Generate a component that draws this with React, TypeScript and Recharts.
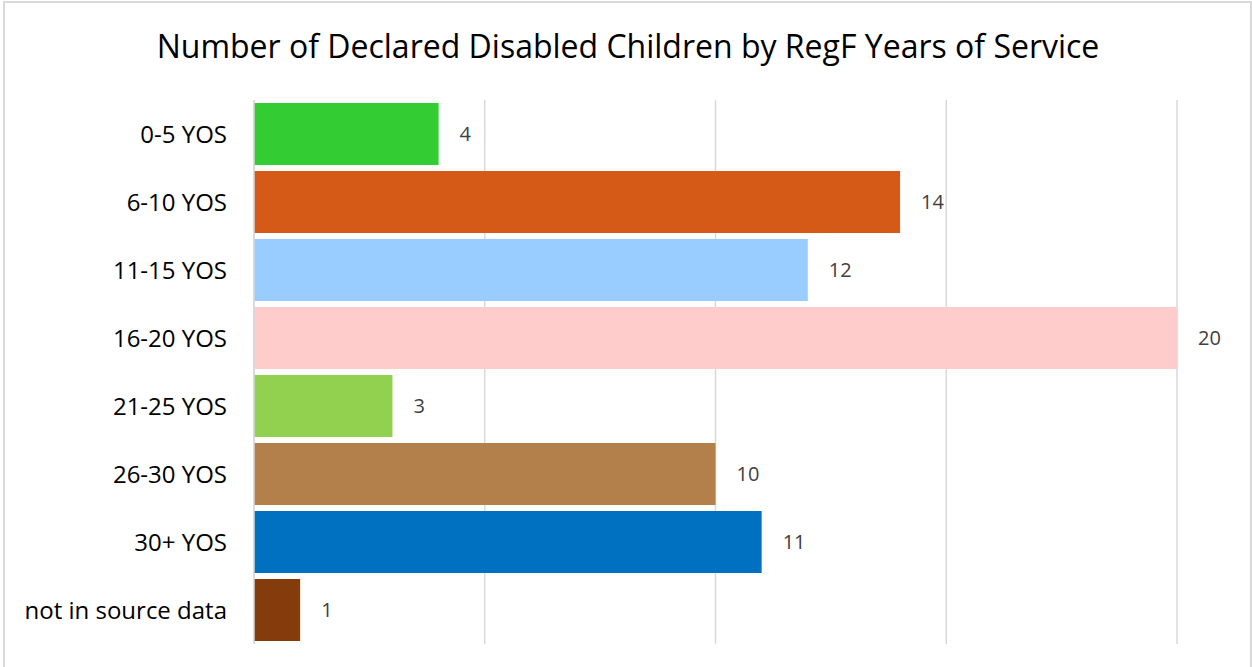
import React from "react";
import { BarChart, Bar, XAxis, YAxis, CartesianGrid, Cell, LabelList } from "recharts";

const categories = ["0-5 YOS", "6-10 YOS", "11-15 YOS", "16-20 YOS", "21-25 YOS", "26-30 YOS", "30+ YOS", "not in source data"];
const counts = [4, 14, 12, 20, 3, 10, 11, 1];
const barColors = ["#33cc33", "#d55a17", "#99ccff", "#ffcccc", "#92d050", "#b3804b", "#0070c0", "#843c0c"];
const xTicks = [0, 5, 10, 15, 20];

const data = categories.map((c, i) => ({ name: c, value: counts[i] }));

const FONT = "'Open Sans', 'Noto Sans', sans-serif";

export default function App() {
  return (
    <div style={{ position: "absolute", left: 0, top: 0, width: 1252, height: 667, overflow: "hidden", background: "#fff", fontFamily: FONT }}>
      <div style={{ position: "absolute", left: 3, top: 1, width: 1245, height: 680, border: "2px solid #d9d9d9" }} />
      <div style={{ position: "absolute", left: 0, top: 24, width: 1256, textAlign: "center", fontSize: 32, lineHeight: "44px", color: "#000", whiteSpace: "nowrap" }}>
        Number of Declared Disabled Children by RegF Years of Service
      </div>
      <div style={{ position: "absolute", left: 0, top: 0 }}>
        <BarChart width={1252} height={667} data={data} layout="vertical" margin={{ top: 100, right: 75, bottom: 23, left: 0 }} barCategoryGap={3}>
          <CartesianGrid horizontal={false} vertical={true} stroke="#d9d9d9" strokeWidth={1.5} />
          <XAxis type="number" domain={[0, 20]} ticks={xTicks} hide />
          <YAxis type="category" dataKey="name" width={254} tickLine={false} axisLine={{ stroke: "#d9d9d9", strokeWidth: 1.5 }} tickSize={0} tickMargin={27} tick={{ fill: "#000", fontSize: 24, fontFamily: FONT }} interval={0} />
          <Bar dataKey="value" isAnimationActive={false}>
            {data.map((d, i) => (
              <Cell key={d.name} fill={barColors[i]} />
            ))}
            <LabelList dataKey="value" position="right" offset={21} fill="#404040" fontSize={20} fontFamily={FONT} />
          </Bar>
        </BarChart>
      </div>
    </div>
  );
}
